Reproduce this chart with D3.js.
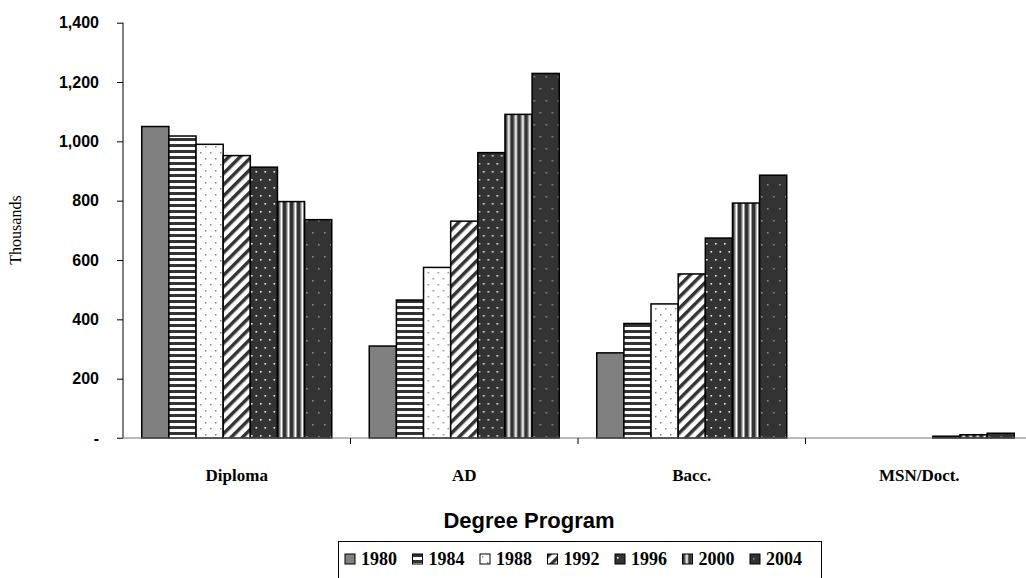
<!DOCTYPE html>
<html><head><meta charset="utf-8">
<script src="https://cdn.jsdelivr.net/npm/d3@7"></script>
<style>body{margin:0;background:#fff}svg{display:block}</style>
</head><body>
<svg id="chart" width="1026" height="578"></svg>
<script>
const categories = ["Diploma", "AD", "Bacc.", "MSN/Doct."];
const years = ["1980", "1984", "1988", "1992", "1996", "2000", "2004"];
const v1980 = [1050, 310, 287, 0];
const v1984 = [1018, 465, 386, 0];
const v1988 = [990, 575, 452, 0];
const v1992 = [952, 731, 553, 0];
const v1996 = [913, 962, 674, 6];
const v2000 = [797, 1091, 792, 11];
const v2004 = [736, 1229, 886, 16];
const yTicks = [0, 200, 400, 600, 800, 1000, 1200, 1400];
const seriesValues = [v1980, v1984, v1988, v1992, v1996, v2000, v2004];

const svg = d3.select("#chart");
const defs = svg.append("defs");

function pat(id, w, h) {
  return defs.append("pattern").attr("id", id).attr("patternUnits", "userSpaceOnUse")
    .attr("width", w).attr("height", h);
}
let p = pat("p1984", 6, 6);
p.append("rect").attr("width", 6).attr("height", 6).attr("fill", "#fff");
p.append("rect").attr("y", 0).attr("width", 6).attr("height", 3).attr("fill", "#333");
p = pat("p1988", 10, 12);
p.append("rect").attr("width", 10).attr("height", 12).attr("fill", "#fff");
p.append("rect").attr("x", 2).attr("y", 2).attr("width", 1.5).attr("height", 1.5).attr("fill", "#888");
p.append("rect").attr("x", 7).attr("y", 8).attr("width", 1.5).attr("height", 1.5).attr("fill", "#888");
p = pat("p1992", 8, 8).attr("patternTransform", "rotate(45)");
p.append("rect").attr("width", 8).attr("height", 8).attr("fill", "#fff");
p.append("rect").attr("x", 0).attr("width", 3.5).attr("height", 8).attr("fill", "#333");
p = pat("p1996", 9, 16);
p.append("rect").attr("width", 9).attr("height", 16).attr("fill", "#333");
p.append("rect").attr("x", 2).attr("y", 3).attr("width", 1.6).attr("height", 1.6).attr("fill", "#eee");
p.append("rect").attr("x", 6.5).attr("y", 11).attr("width", 1.6).attr("height", 1.6).attr("fill", "#eee");
p = pat("p2000", 7, 7);
p.append("rect").attr("width", 7).attr("height", 7).attr("fill", "#fff");
p.append("rect").attr("x", 0).attr("width", 2).attr("height", 7).attr("fill", "#333");
p.append("rect").attr("x", 2).attr("width", 1.5).attr("height", 7).attr("fill", "#777");
p.append("rect").attr("x", 5.5).attr("width", 1.5).attr("height", 7).attr("fill", "#333");
p = pat("p2004", 12, 24);
p.append("rect").attr("width", 12).attr("height", 24).attr("fill", "#333");
p.append("rect").attr("x", 3).attr("y", 4).attr("width", 1.6).attr("height", 1.6).attr("fill", "#888");
p.append("rect").attr("x", 9).attr("y", 16).attr("width", 1.6).attr("height", 1.6).attr("fill", "#888");

const fills = ["#808080", "url(#p1984)", "url(#p1988)", "url(#p1992)", "url(#p1996)", "url(#p2000)", "url(#p2004)"];

const x0 = d3.scaleBand().domain(categories).range([123, 1033]).padding(0);
const x1 = d3.scaleBand().domain(years).range([18.75, x0.bandwidth() - 18.75]).padding(0);
const y = d3.scaleLinear().domain([0, 1400]).range([438, 22.7]);

const groups = svg.append("g").selectAll("g").data(categories).join("g")
  .attr("transform", d => `translate(${x0(d)},0)`);
groups.selectAll("rect").data((c, ci) => years.map((yr, si) => ({yr, si, v: seriesValues[si][ci]})).filter(d => d.v > 0))
  .join("rect")
  .attr("x", d => x1(d.yr))
  .attr("y", d => y(d.v))
  .attr("width", x1.bandwidth())
  .attr("height", d => y(0) - y(d.v))
  .attr("fill", d => fills[d.si])
  .attr("stroke", "#000").attr("stroke-width", 1.5);

const yAxis = d3.axisLeft(y).tickValues(yTicks).tickSize(6).tickPadding(18)
  .tickFormat(d => d === 0 ? "-" : d3.format(",")(d));
const ya = svg.append("g").attr("transform", "translate(123,0)").call(yAxis);
ya.select(".domain").attr("stroke", "#000").attr("d", "M0,22.7V438");
ya.selectAll(".tick line").attr("stroke", "#000");
ya.selectAll("text").attr("font-family", "Liberation Sans, Arial, sans-serif").attr("font-weight", "bold")
  .attr("font-size", 16).attr("fill", "#000");

const xa = svg.append("g").attr("transform", "translate(0,438)");
xa.append("line").attr("x1", 117).attr("x2", 1026).attr("y1", 0).attr("y2", 0).attr("stroke", "#777").attr("stroke-width", 1.2);
xa.selectAll(".xt").data(categories.slice(1)).join("line").attr("class", "xt")
  .attr("x1", d => x0(d)).attr("x2", d => x0(d)).attr("y1", 0).attr("y2", 6).attr("stroke", "#000");
xa.selectAll(".xl").data(categories).join("text").attr("class", "xl")
  .attr("x", d => x0(d) + x0.bandwidth() / 2).attr("y", 43)
  .attr("text-anchor", "middle").attr("font-family", "Liberation Serif, Times New Roman, serif")
  .attr("font-weight", "bold").attr("font-size", 17).text(d => d);

svg.append("text").attr("x", 529).attr("y", 528).attr("text-anchor", "middle")
  .attr("font-family", "Liberation Sans, Arial, sans-serif").attr("font-weight", "bold").attr("font-size", 22)
  .text("Degree Program");
svg.append("text").attr("transform", "translate(21,230) rotate(-90)").attr("text-anchor", "middle")
  .attr("font-family", "Liberation Serif, Times New Roman, serif").attr("font-size", 16).text("Thousands");

const lg = svg.append("g");
lg.append("rect").attr("x", 338.5).attr("y", 541.5).attr("width", 483).attr("height", 40)
  .attr("fill", "#fff").attr("stroke", "#000").attr("stroke-width", 1);
const lx = d3.scalePoint().domain(years).range([345, 750]);
const li = lg.selectAll(".li").data(years).join("g").attr("class", "li")
  .attr("transform", d => `translate(${lx(d)},554)`);
li.append("rect").attr("width", 10).attr("height", 10).attr("fill", (d, i) => fills[i]).attr("stroke", "#000").attr("stroke-width", 1);
li.append("text").attr("x", 16).attr("y", 10.5).attr("font-family", "Liberation Serif, Times New Roman, serif")
  .attr("font-weight", "bold").attr("font-size", 18).text(d => d);
</script>
</body></html>
